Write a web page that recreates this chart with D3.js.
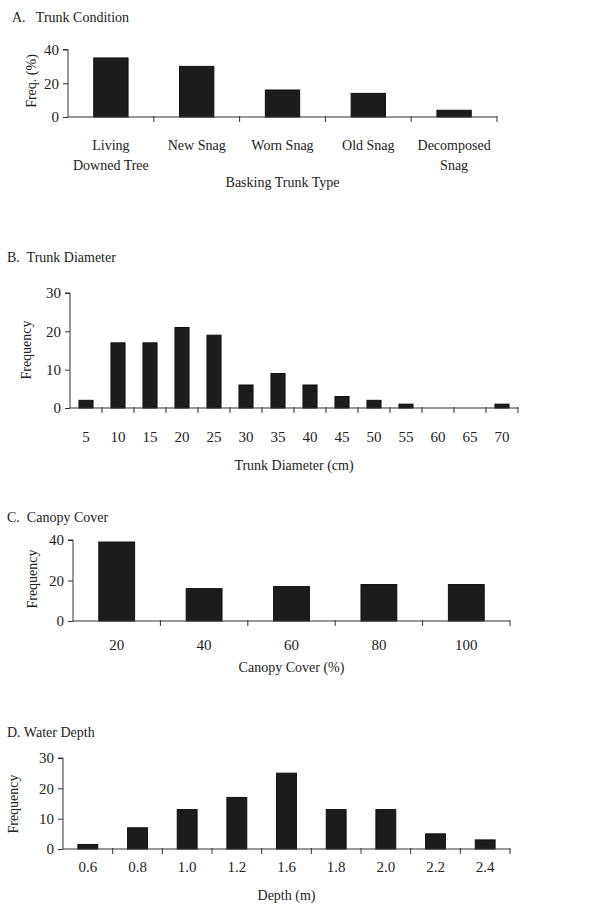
<!DOCTYPE html>
<html lang="en">
<head>
    <meta charset="UTF-8">
    <title>Basking Trunk Characteristics</title>
    <script src="https://d3js.org/d3.v7.min.js"></script>
    <style>
        body { margin: 0; background: #fff; }
        text { font-family: "Liberation Serif", "Times New Roman", serif; font-size: 14px; fill: #222; }
    </style>
</head>
<body>
<div id="chart"></div>

<script>
    // A. Trunk condition
    const trunkTypes = ["Living|Downed Tree", "New Snag", "Worn Snag", "Old Snag", "Decomposed|Snag"];
    const trunkFreq = [35, 30, 16, 14, 4];

    // B. Trunk diameter
    const diameters = ["5", "10", "15", "20", "25", "30", "35", "40", "45", "50", "55", "60", "65", "70"];
    const diameterFreq = [2, 17, 17, 21, 19, 6, 9, 6, 3, 2, 1, 0, 0, 1];

    // C. Canopy cover
    const canopy = ["20", "40", "60", "80", "100"];
    const canopyFreq = [39, 16, 17, 18, 18];

    // D. Water depth
    const depths = ["0.6", "0.8", "1.0", "1.2", "1.6", "1.8", "2.0", "2.2", "2.4"];
    const depthFreq = [1.5, 7, 13, 17, 25, 13, 13, 5, 3];

    const panels = [
        {title: "A.   Trunk Condition", tx: 12, ty: 22, cats: trunkTypes, vals: trunkFreq, numeric: false,
         left: 68, right: 497, top: 49.5, bottom: 117, ymax: 40, yticks: [0, 20, 40], pad: 0.6,
         ylabel: "Freq. (%)", ylx: 36, yly: 81, labelY: 150, xlabel: "Basking Trunk Type", xly: 187},
        {title: "B.  Trunk Diameter", tx: 7, ty: 262, cats: diameters, vals: diameterFreq, numeric: true,
         left: 70, right: 518, top: 293, bottom: 408, ymax: 30, yticks: [0, 10, 20, 30], pad: 0.56,
         ylabel: "Frequency", ylx: 31, yly: 350, labelY: 442, xlabel: "Trunk Diameter (cm)", xly: 470},
        {title: "C.  Canopy Cover", tx: 7, ty: 522, cats: canopy, vals: canopyFreq, numeric: true,
         left: 73, right: 510, top: 540, bottom: 621, ymax: 40, yticks: [0, 20, 40], pad: 0.59,
         ylabel: "Frequency", ylx: 37, yly: 579, labelY: 650, xlabel: "Canopy Cover (%)", xly: 672},
        {title: "D. Water Depth", tx: 7, ty: 737, cats: depths, vals: depthFreq, numeric: true,
         left: 63, right: 510, top: 758, bottom: 849, ymax: 30, yticks: [0, 10, 20, 30], pad: 0.6,
         ylabel: "Frequency", ylx: 18, yly: 804, labelY: 872, xlabel: "Depth (m)", xly: 900}
    ];

    const svg = d3.select("#chart")
        .append("svg")
        .attr("width", 616)
        .attr("height", 907);

    panels.forEach(p => {
        const g = svg.append("g");

        const x = d3.scaleBand()
            .domain(p.cats)
            .range([p.left, p.right])
            .paddingInner(p.pad)
            .paddingOuter(p.pad / 2);

        const y = d3.scaleLinear()
            .domain([0, p.ymax])
            .range([p.bottom, p.top]);

        g.append("text")
            .attr("x", p.tx)
            .attr("y", p.ty)
            .attr("xml:space", "preserve")
            .text(p.title);

        // bars
        g.selectAll("rect")
            .data(p.cats.map((c, i) => ({c, v: p.vals[i]})))
            .join("rect")
            .attr("x", d => x(d.c))
            .attr("width", x.bandwidth())
            .attr("y", d => y(d.v))
            .attr("height", d => y(0) - y(d.v))
            .attr("fill", "#1c1c1c")
            .attr("stroke", "#111")
            .attr("stroke-width", 1);

        // y axis
        const yAxis = g.append("g")
            .attr("transform", `translate(${p.left},0)`)
            .call(d3.axisLeft(y).tickValues(p.yticks).tickSize(5).tickPadding(4));
        yAxis.select(".domain").attr("stroke", "#333").attr("d", `M-5,${p.top}H0V${p.bottom}`);
        yAxis.selectAll(".tick line").attr("stroke", "#333");
        yAxis.selectAll(".tick text")
            .style("font-family", "Liberation Serif")
            .style("font-size", "15px")
            .attr("fill", "#222");

        // x axis line with boundary ticks
        g.append("line")
            .attr("x1", p.left).attr("x2", p.right)
            .attr("y1", y(0)).attr("y2", y(0))
            .attr("stroke", "#333");
        g.selectAll(".xtick")
            .data(d3.range(1, p.cats.length + 1))
            .join("line")
            .attr("class", "xtick")
            .attr("x1", i => p.left + i * x.step())
            .attr("x2", i => p.left + i * x.step())
            .attr("y1", y(0) - 1)
            .attr("y2", y(0) + 5)
            .attr("stroke", "#333");

        // category labels
        g.selectAll(".cat")
            .data(p.cats)
            .join("text")
            .attr("class", "cat")
            .attr("text-anchor", "middle")
            .attr("y", p.labelY)
            .style("font-size", p.numeric ? "15px" : "14px")
            .each(function(c) {
                const t = d3.select(this);
                c.split("|").forEach((line, k) => {
                    t.append("tspan")
                        .attr("x", x(c) + x.bandwidth() / 2)
                        .attr("dy", k === 0 ? 0 : 20)
                        .text(line);
                });
            });

        g.append("text")
            .attr("x", (p.left + p.right) / 2)
            .attr("y", p.xly)
            .attr("text-anchor", "middle")
            .text(p.xlabel);

        g.append("text")
            .attr("transform", `translate(${p.ylx},${p.yly}) rotate(-90)`)
            .attr("text-anchor", "middle")
            .text(p.ylabel);
    });
</script>
</body>
</html>
